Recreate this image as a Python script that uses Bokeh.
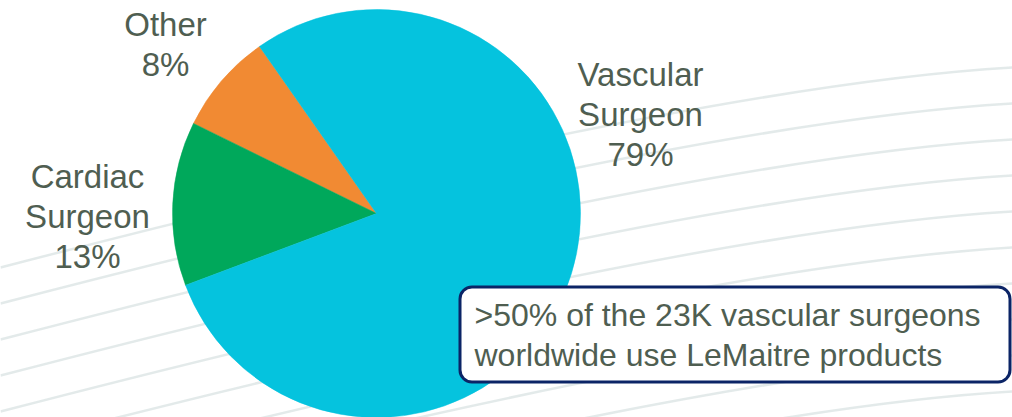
import numpy as np
from bokeh.plotting import figure
from bokeh.models import Range1d, BoxAnnotation, ColumnDataSource
from bokeh.core.properties import value
from bokeh.embed import file_html
from bokeh.resources import INLINE

# ---- data ----
categories = ["Other", "Cardiac Surgeon", "Vascular Surgeon"]
shares = [8, 13, 79]
colors = ["#F18A33", "#00A85B", "#05C3DE"]
callout_lines = [">50% of the 23K vascular surgeons", "worldwide use LeMaitre products"]

# ---- layout (pixel space, y measured from top) ----
W, H = 1012, 417
CX, CY, R = 376, 213, 204
START_DEG = 125.0
FONT = "Liberation Sans"
TXT = "#4F5E51"
BASE_FIX = -11
label_pos = {"Other": (165, 35), "Cardiac Surgeon": (87, 187), "Vascular Surgeon": (640, 85)}
LINE_STEP = 40

p = figure(width=W, height=H, output_backend="svg", toolbar_location=None,
           x_range=Range1d(0, W), y_range=Range1d(0, H), min_border=0,
           outline_line_color=None, background_fill_color="white",
           border_fill_color="white")
p.axis.visible = False
p.grid.visible = False

# faint decorative background swooshes
right_y = np.arange(67, 430, 36)
p.quadratic(x0=0, y0=H - (right_y + 200), x1=W, y1=H - right_y,
            cx=700, cy=H - (right_y + 18), line_color="#DCE5E5", line_width=2.5,
            line_alpha=0.8)

# wedges
frac = np.array(shares, dtype=float) / sum(shares)
ends = np.deg2rad(START_DEG) + np.cumsum(frac) * 2 * np.pi
starts = ends - frac * 2 * np.pi
src = ColumnDataSource(dict(x=[CX] * 3, y=[H - CY] * 3, start=starts, end=ends,
                            color=colors, cat=categories))
p.wedge(x="x", y="y", radius=R, start_angle="start", end_angle="end",
        fill_color="color", line_color="color", line_width=0.5, source=src)

# slice labels
lx, ly, lt = [], [], []
for cat, v in zip(categories, shares):
    words = cat.split(" ") + [f"{v}%"]
    x0, y0 = label_pos[cat]
    for i, w in enumerate(words):
        lx.append(x0)
        ly.append(H - (y0 + BASE_FIX + i * LINE_STEP))
        lt.append(w)
p.text(x=lx, y=ly, text=lt, text_align="center", text_baseline="alphabetic",
       text_font=value(FONT), text_font_size="33px", text_color=TXT)

# callout box
bw = 3
box = BoxAnnotation(left=458 + bw / 2, right=1011 - bw / 2,
                    top=H - (285 + bw / 2), bottom=H - (383 - bw / 2),
                    fill_color="white", fill_alpha=1.0,
                    line_color="#0B2466", line_alpha=1.0, line_width=bw,
                    border_radius=12)
p.add_layout(box)
t = p.text(x=[474, 474], y=[H - (325 + BASE_FIX), H - (365 + BASE_FIX)], text=callout_lines,
           text_align="left", text_baseline="alphabetic",
           text_font=value(FONT), text_font_size="32px", text_color=TXT)
t.level = "overlay"

open("out.html", "w").write(file_html(p, INLINE))
